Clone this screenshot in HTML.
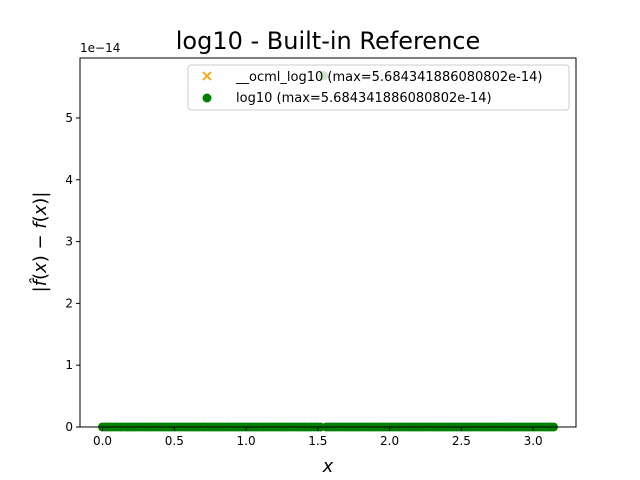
<!DOCTYPE html>
<html><head><meta charset="utf-8"><style>
body{margin:0;background:#fff;}
svg{display:block;font-family:"DejaVu Sans","Liberation Sans",sans-serif;}
</style></head><body>
<svg id="chart" width="640" height="480">
<text x="328" y="49" font-size="24" text-anchor="middle">log10 - Built-in Reference</text>
<text x="80" y="52" font-size="12">1e−14</text>
<g id="marks"></g>
<rect x="80" y="58" width="496" height="369" fill="none" stroke="#000" stroke-width="1"/>
<g id="axes"></g>
<text x="328" y="472" font-size="18" font-style="italic" text-anchor="middle">x</text>
<text transform="translate(46,242) rotate(-90)" font-size="18" text-anchor="middle">|<tspan font-style="italic">f̂</tspan>(<tspan font-style="italic">x</tspan>) − <tspan font-style="italic">f</tspan>(<tspan font-style="italic">x</tspan>)|</text>
<g>
<rect x="188" y="65" width="381" height="45" rx="3" fill="#fff" fill-opacity="0.8" stroke="#ccc"/>
<g>
<path d="M203,72 l8,8 M211,72 l-8,8" stroke="orange" stroke-width="1.8"/>
<text x="236" y="81" font-size="13">__ocml_log10 (max=5.684341886080802e-14)</text>
</g>
<g>
<circle cx="207" cy="98" r="4.5" fill="green"/>
<text x="236" y="102" font-size="13">log10 (max=5.684341886080802e-14)</text>
</g>
</g>
</svg>
<script>
const xMin = 0, xMax = 3.14159;
const errOcml = [0,0,0,0,0,0,0,0,0,0,0,0,0,0,0,0,0,0,0,0,0,0,0,0,0,0,0,0,0,0,0,0,0,0,0,0,0,0,0,0,0,0,0,0,0,0,0,0,0,0,0,0,0,0,0,0,0,0,0,0,0,0,0,0,0,0,0,0,0,0,0,0,0,5.684341886080802,0,0,0,0,0,0,0,0,0,0,0,0,0,0,0,0,0,0,0,0,0,0,0,0,0,0,0,0,0,0,0,0,0,0,0,0,0,0,0,0,0,0,0,0,0,0,0,0,0,0,0,0,0,0,0,0,0,0,0,0,0,0,0,0,0,0,0,0,0,0,0,0,0,0,0,0];
const errLog10 = [0,0,0,0,0,0,0,0,0,0,0,0,0,0,0,0,0,0,0,0,0,0,0,0,0,0,0,0,0,0,0,0,0,0,0,0,0,0,0,0,0,0,0,0,0,0,0,0,0,0,0,0,0,0,0,0,0,0,0,0,0,0,0,0,0,0,0,0,0,0,0,0,0,5.684341886080802,0,0,0,0,0,0,0,0,0,0,0,0,0,0,0,0,0,0,0,0,0,0,0,0,0,0,0,0,0,0,0,0,0,0,0,0,0,0,0,0,0,0,0,0,0,0,0,0,0,0,0,0,0,0,0,0,0,0,0,0,0,0,0,0,0,0,0,0,0,0,0,0,0,0,0,0];
const xTicks = [0,0.5,1,1.5,2,2.5,3];
const xTickLabels = ["0.0","0.5","1.0","1.5","2.0","2.5","3.0"];
const yTicks = [0,1,2,3,4,5];
const yTickLabels = ["0","1","2","3","4","5"];

const NS="http://www.w3.org/2000/svg";
const L=80,R=576,T=58,B=427;
const xlo=-0.157, xhi=3.2987, ylo=0, yhi=5.97;
const sx=v=>L+(v-xlo)/(xhi-xlo)*(R-L);
const sy=v=>B-(v-ylo)/(yhi-ylo)*(B-T);
function mk(t,a,p){const e=document.createElementNS(NS,t);for(const k in a)e.setAttribute(k,a[k]);p.appendChild(e);return e;}
const marks=document.getElementById('marks'), axes=document.getElementById('axes');
const xs=errOcml.map((_,i)=>xMin+(xMax-xMin)*i/(errOcml.length-1));
errOcml.forEach((v,i)=>{
  const x=sx(xs[i]), y=sy(v);
  const p=mk('path',{d:`M${x-3.5},${y-3.5} l7,7 M${x+3.5},${y-3.5} l-7,7`,stroke:'orange','stroke-width':1.6},marks);
  
  
});
errLog10.forEach((v,i)=>{
  const c=mk('circle',{cx:sx(xs[i]),cy:sy(v),r:4.5,fill:'green'},marks);
  
  
});
xTicks.forEach((t,i)=>{
  const x=sx(t);
  mk('line',{x1:x,x2:x,y1:B,y2:B+4,stroke:'#000'},axes);
  const tx=mk('text',{x:x,y:B+18,'font-size':12,'text-anchor':'middle'},axes);
  tx.textContent=xTickLabels[i];
  
  
});
yTicks.forEach((t,i)=>{
  const y=sy(t);
  mk('line',{x1:L-4,x2:L,y1:y,y2:y,stroke:'#000'},axes);
  const tx=mk('text',{x:L-7,y:y+4,'font-size':12,'text-anchor':'end'},axes);
  tx.textContent=yTickLabels[i];
  
  
});
</script>
</body></html>
